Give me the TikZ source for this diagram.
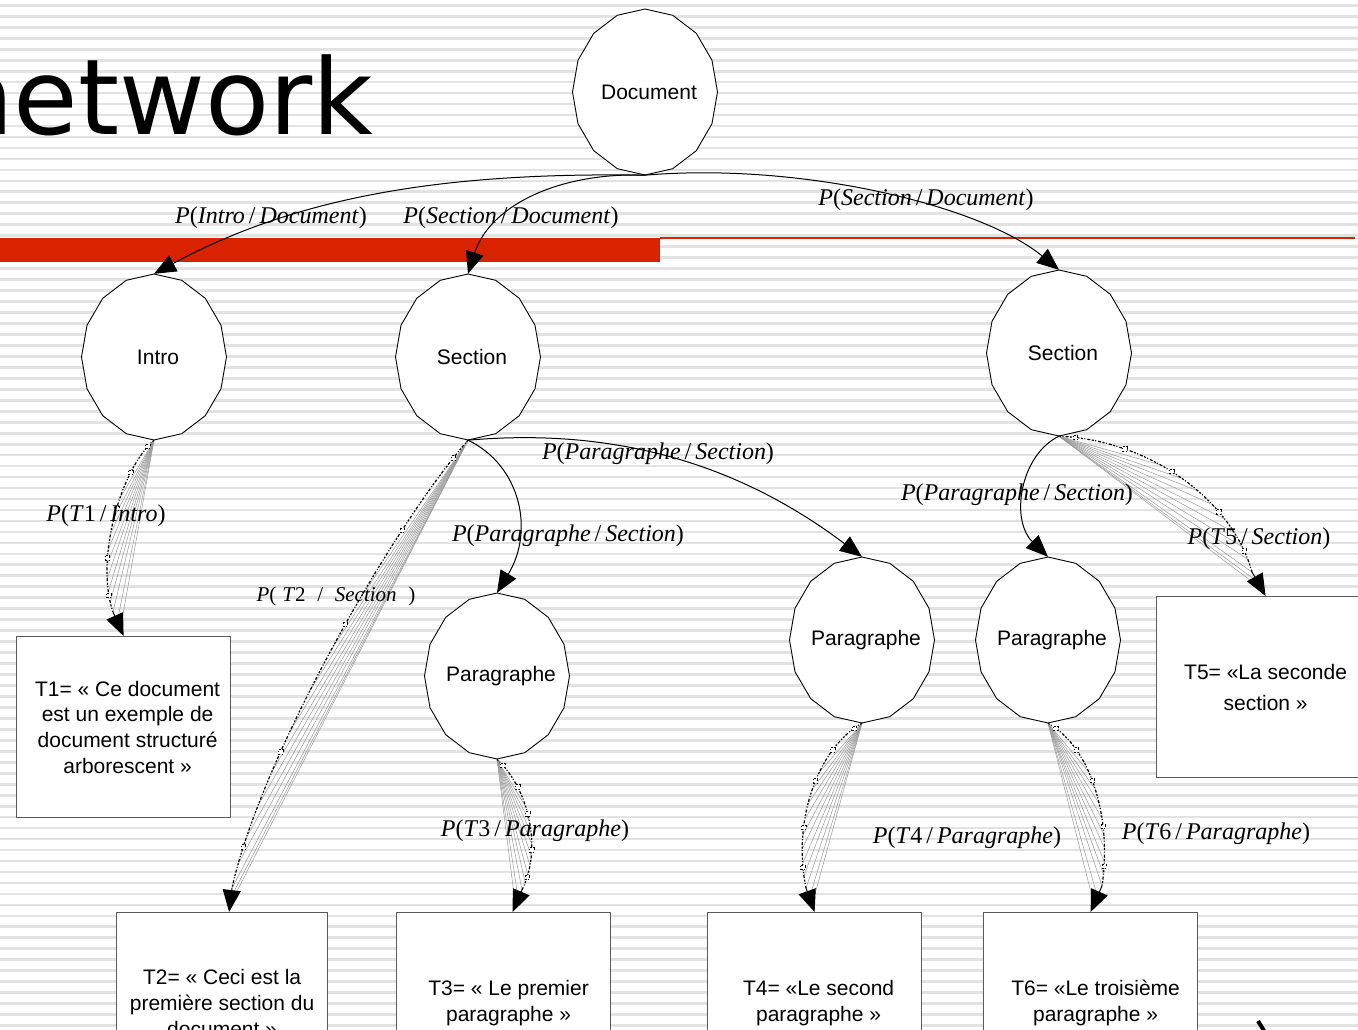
\documentclass[tikz,border=0pt]{standalone}
\usepackage{fontspec}
\setmainfont{Liberation Sans}
\newfontfamily\lblfont{Liberation Serif}
\newfontfamily\titlefont{DejaVu Sans}
\usetikzlibrary{shapes.geometric,arrows.meta,calc}
\definecolor{stripe}{RGB}{226,226,226}
\definecolor{barred}{RGB}{216,34,0}

\tikzset{
  stateshape/.style={fill=white,draw=black,line width=0.9pt},
  stateanchor/.style={ellipse,draw=none,inner sep=0pt},
  statetext/.style={inner sep=0pt,font=\fontsize{21}{25}\selectfont},
  textbox/.style={draw=black!65,line width=1.2pt,fill=white,anchor=north west,
    align=center,inner sep=0pt,minimum width=214pt,minimum height=181pt,
    font=\fontsize{21}{25.7}\selectfont},
  link/.style={line width=1pt,-{Triangle[length=22pt,width=18pt]}},
  headtip/.style={line width=1pt,-{Triangle[length=22pt,width=18pt]}},
  ray/.style={draw=black!40,line width=0.5pt},
  trace/.style={line width=1.2pt,dash pattern=on 2pt off 1.5pt on 1pt off 2pt on 3pt off 1.5pt},
  probe/.style={draw=black,fill=white,line width=0.6pt,minimum size=4.5pt,inner sep=0pt,rectangle},
  prob/.style={font=\lblfont\fontsize{24}{28}\selectfont,inner sep=0pt},
}

% polygonal state: name, cx, cy, rx, ry, text
\newcommand\statenode[6]{%
  \filldraw[stateshape] plot[samples=17,domain=0:360,variable=\a]
    ({#2+#4*cos(\a)},{#3+#5*sin(\a)}) -- cycle;
  \node[stateanchor,minimum width={2*#4pt},minimum height={2*#5pt}] (#1) at (#2,#3) {};
  \node[statetext,xshift=4pt] (#1-text) at (#2,#3) {#6};
}

% probabilistic link drawn as a bundle of rays and a dotted trace
% source, control 1, control 2, end of trace, target
\newcommand\fanlink[5]{%
  \path (#1) .. controls #2 and #3 .. #4
    coordinate[pos=0.40] (fanA) coordinate[pos=0.50] (fanB)
    coordinate[pos=0.58] (fanC) coordinate[pos=0.66] (fanD)
    coordinate[pos=0.74] (fanE) coordinate[pos=0.81] (fanF)
    coordinate[pos=0.88] (fanG) coordinate[pos=0.94] (fanH)
    coordinate[pos=1] (fanI);
  \foreach \c in {fanA,fanB,fanC,fanD,fanE,fanF,fanG,fanH,fanI}
    \draw[ray] (#1) -- (\c);
  \draw[ray] (#1) -- ($(fanI)!0.4!(#5)$);
  \draw[ray] (#1) -- ($(fanI)!0.7!(#5)$);
  \draw[trace] (#1) .. controls #2 and #3 .. #4
    node[probe,pos=0.06] {} node[probe,pos=0.25] {} node[probe,pos=0.45] {}
    node[probe,pos=0.7] {} node[probe,pos=0.9] {};
  \draw[headtip] #4 -- (#5);
}

\newcommand\pr[2]{\textit{P}(\textit{#1}\,/\,\textit{#2})}

\begin{document}
\begin{tikzpicture}[x=1pt,y=-1pt]
\useasboundingbox (0,0) rectangle (1358,1030);
\clip (0,0) rectangle (1358,1030);

% striped background
\fill[white] (0,0) rectangle (1358,1030);
\foreach \k in {0,...,94}
  \fill[stripe] (0,{4+10.97*\k}) rectangle (1358,{6.7+10.97*\k});

% title and red rule
\node[anchor=base east,inner sep=0pt,font=\titlefont\fontsize{105}{105}\selectfont]
  (title) at (374,135) {network};
\fill[barred] (0,238) rectangle (660,262);
\draw[barred,line width=2pt] (660,237.8) -- (1355,237.8);

% states
\statenode{doc}{645}{92}{72.5}{83}{Document}
\statenode{intro}{154}{357}{72.5}{83}{Intro}
\statenode{secA}{468}{357}{72.5}{83}{Section}
\statenode{secB}{1059}{353}{72.5}{83}{Section}
\statenode{parA}{497}{676}{72.5}{83}{Paragraphe}
\statenode{parB}{862}{640}{72.5}{83}{Paragraphe}
\statenode{parC}{1048}{640}{72.5}{83}{Paragraphe}

% observed texts
\node[textbox] (t1) at (16,636) {\hspace*{8pt}T1= « Ce document\\\hspace*{8pt}est un exemple de\\\hspace*{8pt}document structuré\\\hspace*{8pt}arborescent »};
\node[textbox,minimum width=211pt] (t2) at (116,912) {T2= « Ceci est la\\première section du\\document »};
\node[textbox] (t3) at (396,912) {\hspace*{10pt}T3= « Le premier\\\hspace*{10pt}paragraphe »};
\node[textbox] (t4) at (707,912) {\hspace*{8pt}T4= «Le second\\\hspace*{8pt}paragraphe »};
\node[textbox] (t6) at (983,912) {\hspace*{10pt}T6= «Le troisième\\\hspace*{10pt}paragraphe »};
\node[textbox,minimum width=218pt,font=\fontsize{21}{31}\selectfont] (t5) at (1156,596) {T5= «La seconde\\section »};

% emission links
\fanlink{intro.south}{(120,470)}{(95,560)}{(113,612)}{t1.north}
\fanlink{secA.south}{(390,530)}{(260,760)}{(232,888)}{[xshift=7pt]t2.north}
\fanlink{parA.south}{(530,790)}{(542,850)}{(522,890)}{[xshift=9pt]t3.north}
\fanlink{parB.south}{(818,748)}{(792,820)}{(806,888)}{t4.north}
\fanlink{parC.south}{(1092,748)}{(1112,820)}{(1102,886)}{t6.north}
\fanlink{secB.south}{(1150,440)}{(1232,500)}{(1252,572)}{t5.north}

% structural links
\draw[link] (doc.south) .. controls (450,172) and (300,195) .. (intro.north);
\draw[link] (doc.south) .. controls (560,172) and (490,205) .. (secA.north);
\draw[link] (doc.south) .. controls (800,162) and (980,205) .. (secB.north);
\draw[link] (secA.south) .. controls (640,425) and (760,480) .. (parB.north);
\draw[link] (secA.south) .. controls (520,465) and (535,530) .. (parA.north);
\draw[link] (secB.south) .. controls (1020,455) and (1010,520) .. (parC.north);

% link probabilities
\node[prob] (l1) at (271,218) {\pr{Intro}{Document}};
\node[prob] (l2) at (511,218) {\pr{Section}{Document}};
\node[prob] (l3) at (926,200) {\pr{Section}{Document}};
\node[prob] (l4) at (658,454) {\pr{Paragraphe}{Section}};
\node[prob] (l5) at (568,536) {\pr{Paragraphe}{Section}};
\node[prob] (l6) at (1017,495) {\pr{Paragraphe}{Section}};
\node[prob] (l7) at (106,516) {\textit{P}(\textit{T}1\,/\,\textit{Intro})};
\node[prob,font=\lblfont\fontsize{21}{25}\selectfont] (l8) at (336,596)
  {\textit{P}(\;\textit{T}2\;\;/\;\;\textit{Section}\;\;)};
\node[prob] (l9) at (535,831) {\textit{P}(\textit{T}3\,/\,\textit{Paragraphe})};
\node[prob] (l10) at (967,838) {\textit{P}(\textit{T}4\,/\,\textit{Paragraphe})};
\node[prob] (l11) at (1216,834) {\textit{P}(\textit{T}6\,/\,\textit{Paragraphe})};
\node[prob] (l12) at (1259,539) {\textit{P}(\textit{T}5\,/\,\textit{Section})};

% corner mark
\draw[line width=4pt] (1258,1021) -- (1266,1034);
\end{tikzpicture}
\end{document}
